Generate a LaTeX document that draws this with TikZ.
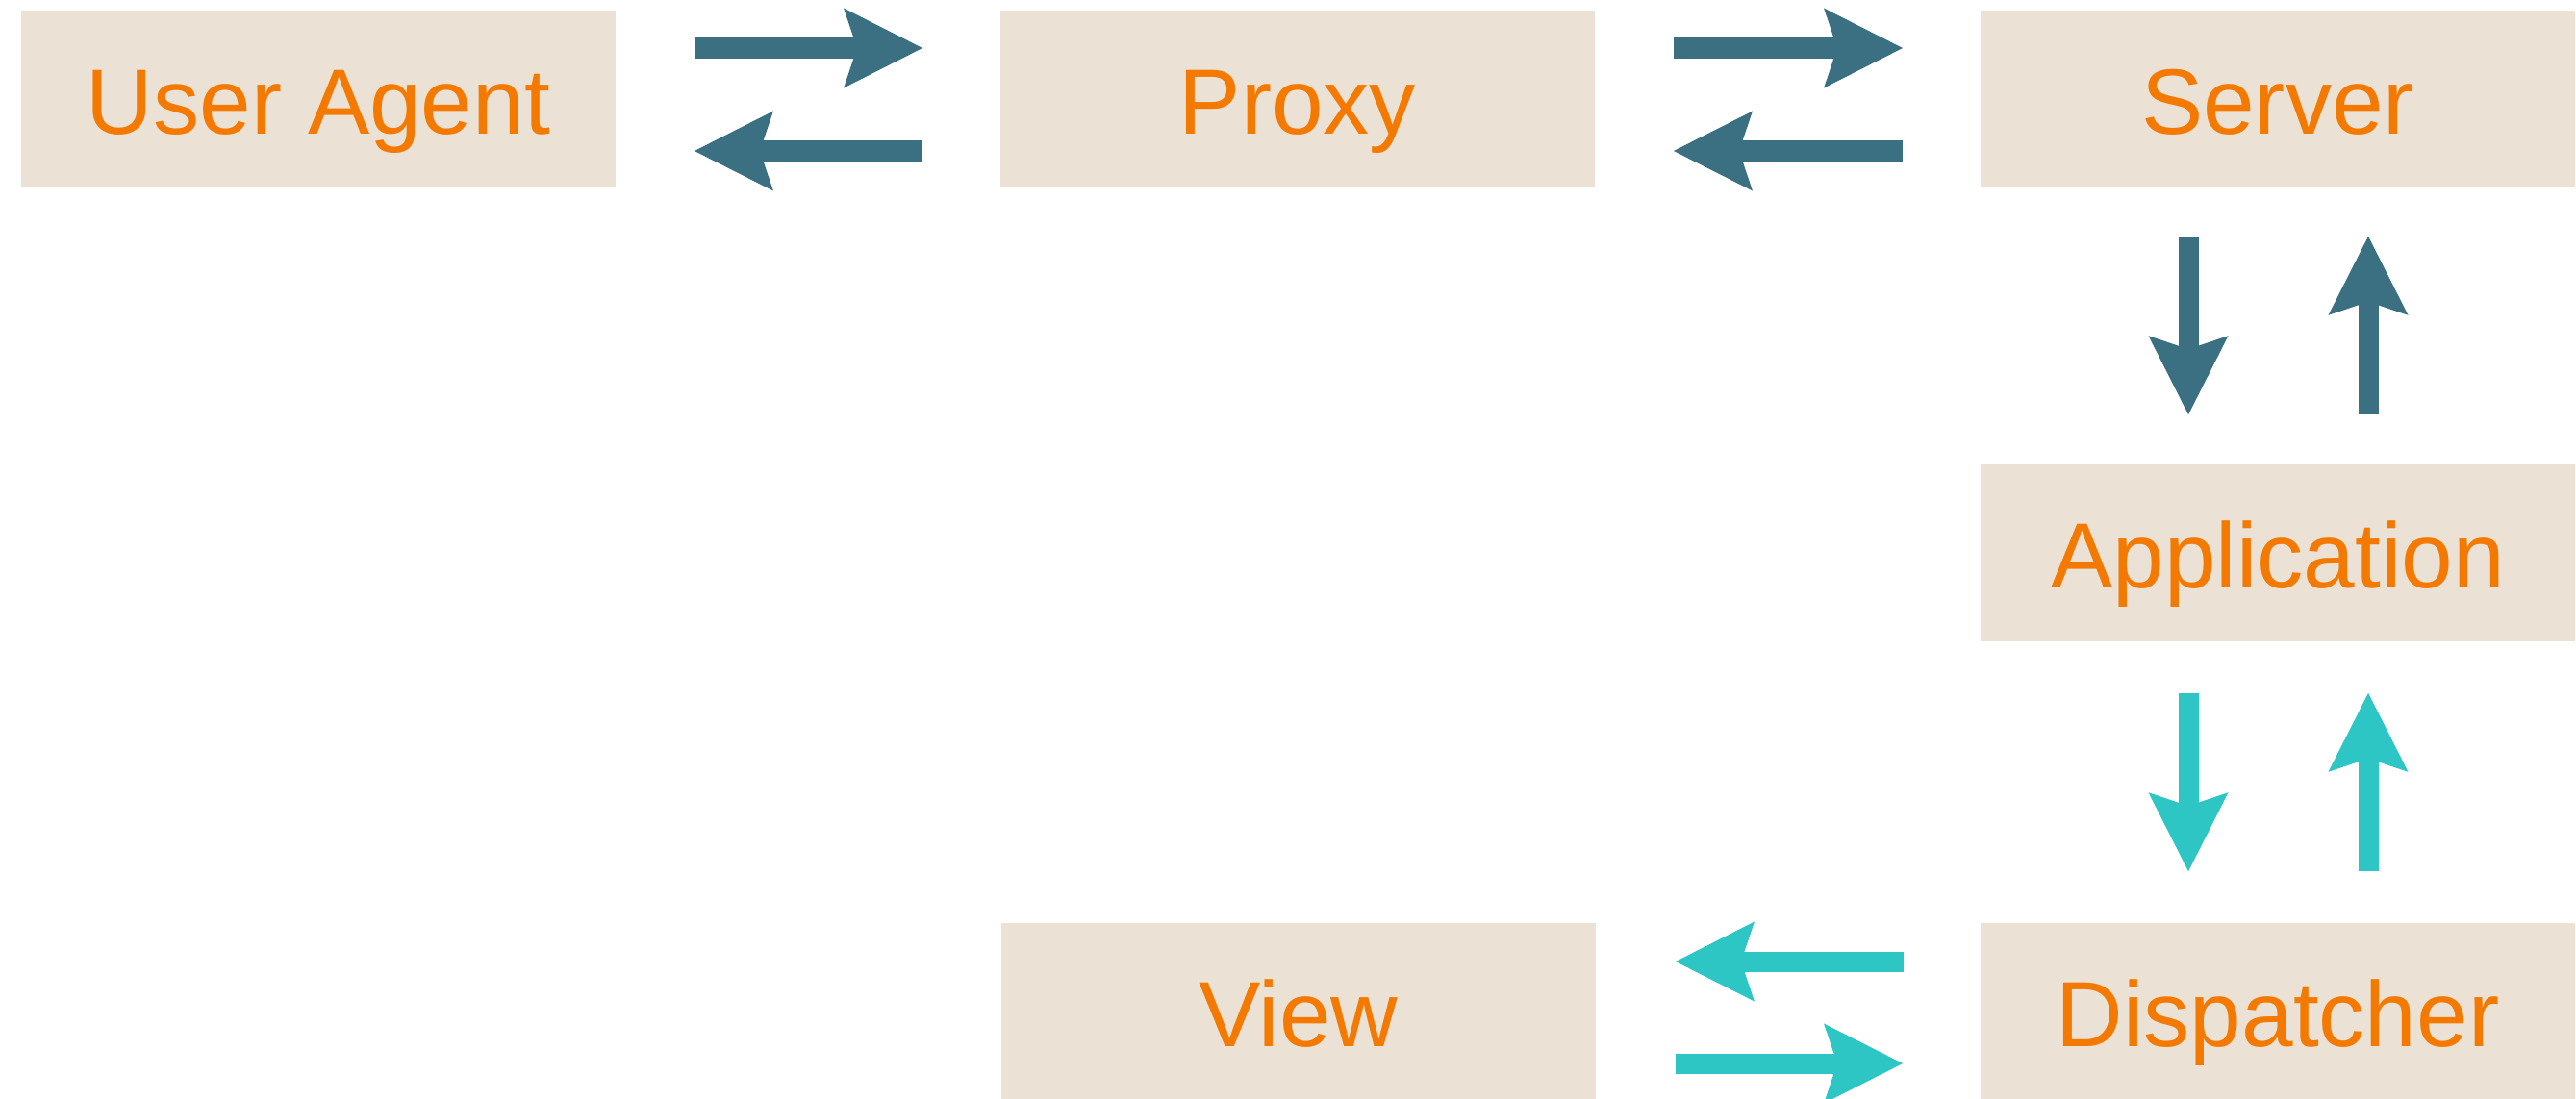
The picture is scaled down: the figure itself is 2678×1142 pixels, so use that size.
\documentclass[tikz,border=0pt]{standalone}
\usepackage{fontspec}
\setmainfont{Liberation Sans}
\usetikzlibrary{arrows.meta,calc}
\definecolor{boxfill}{HTML}{EBE2D5}
\definecolor{txtorange}{HTML}{F47900}
\definecolor{darkteal}{HTML}{3A7082}
\definecolor{cyanarr}{HTML}{2EC6C4}
\begin{document}
\begin{tikzpicture}[x=0.01cm,y=-0.01cm,
  box/.style={fill=boxfill, draw=none, minimum width=6.18cm, minimum height=1.84cm,
    inner sep=0pt, text height=0.72cm, text depth=0pt, text=txtorange,
    font=\fontsize{27.4pt}{30pt}\selectfont},
  conn/.style={line width=0.21cm, -{Stealth[length=0.82cm, width=0.83cm, inset=0.14cm, line width=0pt]}},
  tealarr/.style={conn, draw=darkteal, fill=darkteal},
  cyanarrow/.style={conn, draw=cyanarr, fill=cyanarr}]
\useasboundingbox (0,0) rectangle (2678,1142);
\node[box] (ua) at (331,103) {User Agent};
\node[box] (pr) at (1349,103) {Proxy};
\node[box] (sv) at (2368,103) {Server};
\node[box] (app) at (2368,575) {Application};
\node[box] (view) at (1350,1052) {View};
\node[box] (disp) at (2368,1052) {Dispatcher};
% top row
\draw[tealarr, shorten <=0.81cm, shorten >=0.80cm] ($(ua.east)+(0,-53)$) -- ($(pr.west)+(0,-53)$);
\draw[tealarr, shorten <=0.80cm, shorten >=0.81cm] ($(pr.west)+(0,54)$) -- ($(ua.east)+(0,54)$);
\draw[tealarr, shorten <=0.81cm, shorten >=0.80cm] ($(pr.east)+(0,-53)$) -- ($(sv.west)+(0,-53)$);
\draw[tealarr, shorten <=0.80cm, shorten >=0.81cm] ($(sv.west)+(0,54)$) -- ($(pr.east)+(0,54)$);
% server <-> application
\draw[tealarr, shorten <=0.50cm, shorten >=0.51cm] ($(sv.south)+(-93,0)$) -- ($(app.north)+(-93,0)$);
\draw[tealarr, shorten <=0.51cm, shorten >=0.50cm] ($(app.north)+(94,0)$) -- ($(sv.south)+(94,0)$);
% application <-> dispatcher
\draw[cyanarrow, shorten <=0.53cm, shorten >=0.53cm] ($(app.south)+(-93,0)$) -- ($(disp.north)+(-93,0)$);
\draw[cyanarrow, shorten <=0.53cm, shorten >=0.53cm] ($(disp.north)+(94,0)$) -- ($(app.south)+(94,0)$);
% dispatcher <-> view
\draw[cyanarrow, shorten <=0.79cm, shorten >=0.82cm] ($(disp.west)+(0,-52)$) -- ($(view.east)+(0,-52)$);
\draw[cyanarrow, shorten <=0.82cm, shorten >=0.80cm] ($(view.east)+(0,54)$) -- ($(disp.west)+(0,54)$);
\end{tikzpicture}
\end{document}
